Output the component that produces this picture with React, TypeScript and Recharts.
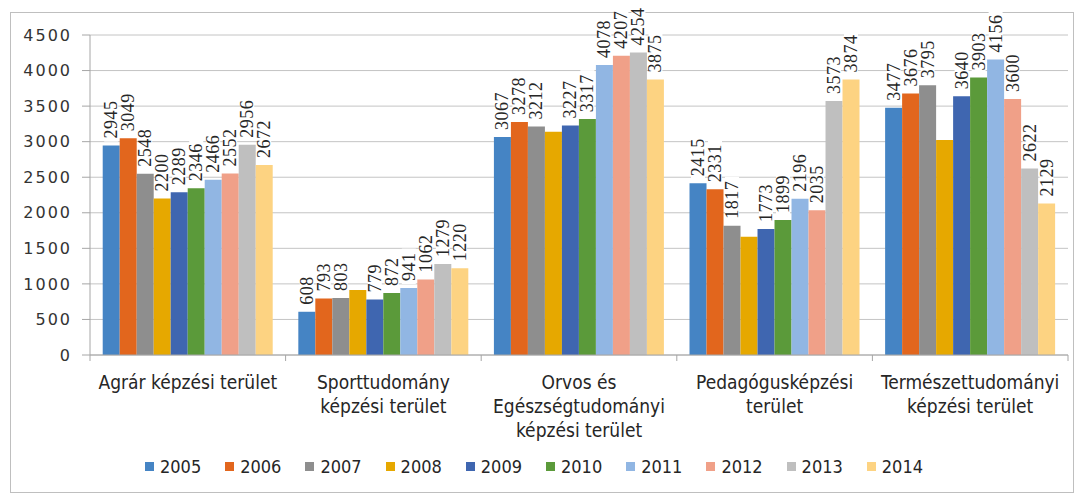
import { BarChart, Bar, XAxis, YAxis, CartesianGrid, Legend, LabelList } from "recharts";

const categories = [
  "Agrár képzési terület",
  "Sporttudomány\nképzési terület",
  "Orvos és\nEgészségtudományi\nképzési terület",
  "Pedagógusképzési\nterület",
  "Természettudományi\nképzési terület",
];

const years = ["2005", "2006", "2007", "2008", "2009", "2010", "2011", "2012", "2013", "2014"];

const v2005 = [2945, 608, 3067, 2415, 3477];
const v2006 = [3049, 793, 3278, 2331, 3676];
const v2007 = [2548, 803, 3212, 1817, 3795];
const v2008 = [2200, 914, 3140, 1664, 3023];
const v2009 = [2289, 779, 3227, 1773, 3640];
const v2010 = [2346, 872, 3317, 1899, 3903];
const v2011 = [2466, 941, 4078, 2196, 4156];
const v2012 = [2552, 1062, 4207, 2035, 3600];
const v2013 = [2956, 1279, 4254, 3573, 2622];
const v2014 = [2672, 1220, 3875, 3874, 2129];

const yTicks = [0, 500, 1000, 1500, 2000, 2500, 3000, 3500, 4000, 4500];

// labels Excel dropped because they collided
const hiddenLabels: [string, number][] = [
  ["2008", 1],
  ["2008", 2],
  ["2008", 3],
  ["2008", 4],
];

const colors = [
  "#4584C4",
  "#E2661D",
  "#8E8E8E",
  "#E6A800",
  "#3F66B0",
  "#5B9A3A",
  "#91B6E3",
  "#F0A088",
  "#BFBFBF",
  "#FDD382",
];

const seriesValues = [v2005, v2006, v2007, v2008, v2009, v2010, v2011, v2012, v2013, v2014];

const data = categories.map((name, i) => {
  const row: Record<string, string | number> = { name };
  years.forEach((yr, s) => {
    row[yr] = seriesValues[s][i];
  });
  return row;
});

const W = 1079;
const H = 497;
const margin = { top: 35, right: 11, bottom: 20, left: 0 };
const yAxisWidth = 90;
const halfBand = (W - margin.right - yAxisWidth) / categories.length / 2;

const narrow = "'Liberation Sans Narrow', 'DejaVu Sans Condensed', sans-serif";

function makeLabel(year: string) {
  return (props: any) => {
    const { x, y, width, value, index } = props;
    if (hiddenLabels.some(([yr, i]) => yr === year && i === index)) return null;
    const cx = Number(x) + Number(width) / 2;
    const by = Number(y) - 7;
    const len = String(value).length * 9.5 + 4;
    return (
      <g>
        <rect x={cx - 7} y={by - len} width={14} height={len + 3} fill="#fff" />
        <text
          x={cx}
          y={by}
          transform={`rotate(-90 ${cx} ${by})`}
          textAnchor="start"
          dominantBaseline="central"
          fontFamily="'Liberation Serif', serif"
          fontSize={18}
          letterSpacing={0.5}
          fill="#262626"
        >
          {value}
        </text>
      </g>
    );
  };
}

function CategoryTick(props: any) {
  const { x, y, payload, index } = props;
  const lines = String(payload.value).split("\n");
  return (
    <g>
      <line x1={x - halfBand} x2={x - halfBand} y1={y} y2={y + 6} stroke="#a6a6a6" />
      {index === categories.length - 1 && (
        <line x1={x + halfBand} x2={x + halfBand} y1={y} y2={y + 6} stroke="#a6a6a6" />
      )}
      <text x={x} y={y + 34} textAnchor="middle" fontFamily={narrow} fontSize={19} fill="#262626">
        {lines.map((l, i) => (
          <tspan key={i} x={x} dy={i === 0 ? 0 : 24}>
            {l}
          </tspan>
        ))}
      </text>
    </g>
  );
}

function LegendContent(props: any) {
  const items = props.payload || [];
  return (
    <div
      style={{
        display: "flex",
        justifyContent: "center",
        alignItems: "center",
        height: 22,
        gap: 24,
        fontFamily: narrow,
        fontSize: 18,
        color: "#262626",
      }}
    >
      {items.map((it: any) => (
        <span key={it.value} style={{ display: "flex", alignItems: "center" }}>
          <span style={{ width: 9, height: 9, background: it.color, marginRight: 6, display: "inline-block" }} />
          {it.value}
        </span>
      ))}
    </div>
  );
}

export default function App() {
  return (
    <div style={{ position: "absolute", left: 0, top: 0, width: W, height: H, background: "#fff" }}>
      <div
        style={{
          position: "absolute",
          left: 10,
          top: 12,
          width: 1062,
          height: 479,
          border: "1px solid #bfbfbf",
        }}
      />
      <div style={{ position: "absolute", left: 0, top: 0 }}>
        <BarChart
          width={W}
          height={H}
          data={data}
          margin={margin}
          barCategoryGap="6.5%"
          barGap={0}
        >
          <CartesianGrid vertical={false} stroke="#c4c4c4" />
          <XAxis
            dataKey="name"
            interval={0}
            height={100}
            tickLine={false}
            tickSize={0}
            tickMargin={0}
            axisLine={{ stroke: "#a6a6a6" }}
            tick={<CategoryTick />}
          />
          <YAxis
            domain={[0, 4500]}
            ticks={yTicks}
            interval={0}
            width={yAxisWidth}
            tickSize={8}
            tickMargin={10}
            axisLine={{ stroke: "#a6a6a6" }}
            tickLine={{ stroke: "#a6a6a6" }}
            tick={{ fontSize: 16, fill: "#333", fontFamily: "'DejaVu Sans', sans-serif", letterSpacing: 2 }}
          />
          <Legend verticalAlign="bottom" content={<LegendContent />} />
          {years.map((yr, s) => (
            <Bar key={yr} dataKey={yr} fill={colors[s]} isAnimationActive={false}>
              <LabelList dataKey={yr} content={makeLabel(yr)} />
            </Bar>
          ))}
        </BarChart>
      </div>
    </div>
  );
}
